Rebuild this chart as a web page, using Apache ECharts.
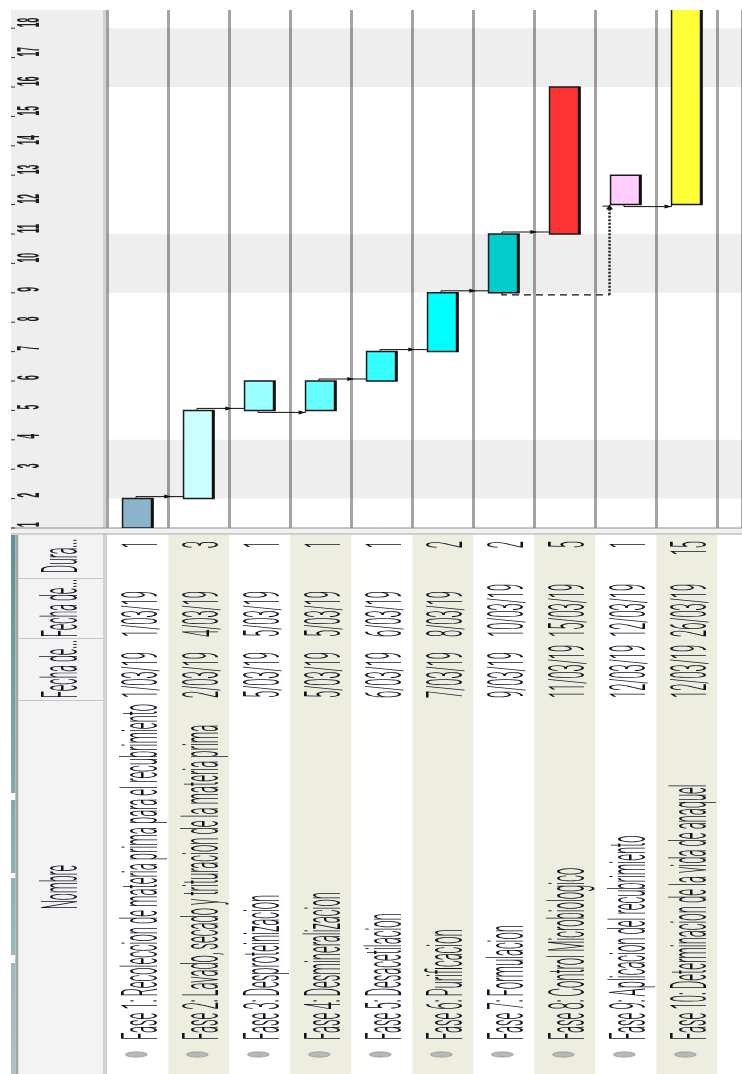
<!DOCTYPE html>
<html><head><meta charset="utf-8">
<script src="https://cdn.jsdelivr.net/npm/echarts@6/dist/echarts.min.js"></script>
<style>html,body{margin:0;padding:0;background:#fff}#c{width:742px;height:1074px}</style>
</head><body><div id="c"></div>
<script>
// ---------------- DATA ----------------
const taskNames = [
  'Fase 1: Recoleccion de materia prima para el recubrimiento',
  'Fase 2: Lavado, secado y trituracion de la materia prima',
  'Fase 3: Desproteinizacion',
  'Fase 4: Desmineralizacion',
  'Fase 5: Desacetilacion',
  'Fase 6: Purificacion',
  'Fase 7: Formulacion',
  'Fase 8: Control Microbiologico',
  'Fase 9: Aplicacion del recubrimiento',
  'Fase 10: Determinacion de la vida de anaquel'
];
const startDates = ['1/03/19','2/03/19','5/03/19','5/03/19','6/03/19','7/03/19','9/03/19','11/03/19','12/03/19','12/03/19'];
const endDates   = ['1/03/19','4/03/19','5/03/19','5/03/19','6/03/19','8/03/19','10/03/19','15/03/19','12/03/19','26/03/19'];
const startDay   = [1, 2, 5, 5, 6, 7, 9, 11, 12, 12];
const durations  = [1, 3, 1, 1, 1, 2, 2, 5, 1, 15];
const dayTickLabels = ['1','2','3','4','5','6','7','8','9','10','11','12','13','14','15','16','17','18'];
const weekendStarts = [2, 9, 16];          // two-day shaded bands
const weekendLength = 2;
const tableHeaders = ['Nombre', 'Fecha de...', 'Fecha de...', 'Dura...'];
// dependencies: kind 0 = finish-start, 1 = start-start, 2 = start-start with lag (dashed)
const depFrom = [0, 1, 2, 3, 4, 5, 6, 6, 8];
const depTo   = [1, 2, 3, 4, 5, 6, 7, 8, 9];
const depKind = [0, 0, 1, 0, 0, 0, 0, 2, 1];

// ---------------- STYLE ----------------
const barColors = ['#8cb3cc','#ccffff','#99ffff','#66ffff','#33ffff','#00ffff','#00cccc','#ff3333','#ffccff','#ffff33'];
const GRID_LEFT = 107.3, GRID_TOP = 10, GRID_BOTTOM_Y = 528, COL_W = 61, DAY_PX = 29.4;
const X_MAX = (742 - GRID_LEFT) / COL_W;
const Y_MAX = 1 + (GRID_BOTTOM_Y - GRID_TOP) / DAY_PX;
const FONT = 'Roboto, "Liberation Sans", Arial, sans-serif';
const FONT_W = 300;
const LABEL_FONT = '"Liberation Sans", Arial, sans-serif';
const TXT_FILL = '#111122';
const mctx = document.createElement('canvas').getContext('2d');
mctx.font = FONT_W + ' 12px ' + FONT;
const TXT_SX = 336 / mctx.measureText(taskNames[0]).width;
const DATE_SX = 46 / mctx.measureText('1/03/19').width;
const TXT_SY = 4.2;
const headerCells = [[700, 1074], [638, 700], [578, 638], [534, 578]]; // y ranges for tableHeaders

function rotText(text, x, y, align, opts) {
  opts = opts || {};
  return {
    type: 'text', x: x, y: y, rotation: Math.PI / 2,
    scaleX: opts.sx || TXT_SX, scaleY: opts.sy || TXT_SY,
    style: { text: text, fontSize: opts.fs || 12, fontFamily: opts.ff || FONT, fontWeight: opts.fw || FONT_W,
             fill: opts.fill || TXT_FILL, align: align, verticalAlign: 'middle' }
  };
}

// ---------------- RENDERERS ----------------
function renderBand(params, api) {
  const s = api.value(1);
  const p0 = api.coord([0, s]);
  const p1 = api.coord([X_MAX, s + weekendLength]);
  return { type: 'rect', shape: { x: p0[0], y: p1[1], width: p1[0] - p0[0], height: p0[1] - p1[1] },
           style: { fill: 'rgba(0,0,0,0.068)' } };
}
function renderBar(params, api) {
  const i = api.value(0), s = api.value(1), e = api.value(2);
  const p0 = api.coord([i + 0.25, s]);
  const p1 = api.coord([i + 0.75, e]);
  const x = p0[0], y = p1[1], w = p1[0] - p0[0], h = p0[1] - p1[1];
  return { type: 'group', children: [
    { type: 'rect', shape: { x: x, y: y, width: w, height: h },
      style: { fill: barColors[i], stroke: '#1a1a1a', lineWidth: 1.5 } },
    { type: 'line', shape: { x1: x + w - 1, y1: y, x2: x + w - 1, y2: y + h },
      style: { stroke: '#111', lineWidth: 2.5 } }
  ]};
}
function renderDep(params, api) {
  const a = api.value(0), b = api.value(1), kind = api.value(2);
  const stroke = '#111';
  const xA = api.coord([a + 0.47, 1])[0];
  const xB = api.coord([b + 0.25, 1])[0];
  const ch = [];
  if (kind === 0) {
    const yBar = api.coord([0, startDay[a] + durations[a]])[1];
    const y = yBar - 2;
    ch.push({ type: 'polyline', shape: { points: [[xA, yBar], [xA, y], [xB, y]] },
              style: { stroke: stroke, lineWidth: 1, fill: null } });
    const bx = api.coord([b, 1])[0];
    ch.push({ type: 'polygon', shape: { points: [[bx - 4, y - 2], [bx + 3, y], [bx - 4, y + 2]] }, style: { fill: stroke } });
  } else if (kind === 1) {
    const yBar = api.coord([0, startDay[a]])[1];
    const y = yBar + 2;
    ch.push({ type: 'polyline', shape: { points: [[xA, yBar], [xA, y], [xB, y], [xB, yBar]] },
              style: { stroke: stroke, lineWidth: 1, fill: null } });
    ch.push({ type: 'polygon', shape: { points: [[xB - 7, y - 2], [xB, y], [xB - 7, y + 2]] }, style: { fill: stroke } });
  } else {
    const yBar = api.coord([0, startDay[a]])[1];
    const y = yBar + 2;
    const yT = api.coord([0, startDay[b]])[1];
    const xV = xB - 1;
    ch.push({ type: 'polyline', shape: { points: [[xA, yBar], [xA, y], [xV, y]] },
              style: { stroke: stroke, lineWidth: 1.2, lineDash: [7, 5], fill: null } });
    ch.push({ type: 'line', shape: { x1: xV, y1: y, x2: xV, y2: yT + 4 },
              style: { stroke: '#222', lineWidth: 2.5, lineDash: [2, 1.5] } });
    ch.push({ type: 'polygon', shape: { points: [[xV - 3.5, yT + 5], [xV, yT], [xV + 3.5, yT + 5]] }, style: { fill: stroke } });
    ch.push({ type: 'line', shape: { x1: xV - 7, y1: yT + 1.5, x2: xV, y2: yT + 1.5 }, style: { stroke: stroke, lineWidth: 1 } });
  }
  return { type: 'group', children: ch };
}
function renderDayLabel(params, api) {
  const d = api.value(1);
  const y = api.coord([0, d])[1];
  return { type: 'group', children: [
    { type: 'line', shape: { x1: 11, y1: y, x2: 15, y2: y }, style: { stroke: '#333', lineWidth: 1 } },
    rotText(dayTickLabels[params.dataIndex], 31, y - 1, 'left',
            { fs: 8.5, sx: 1, sy: 3.6, fill: '#1e1e1e', ff: LABEL_FONT, fw: 'bold' })
  ]};
}
function renderRow(params, api) {
  const i = api.value(0);
  const xl = api.coord([i, 1])[0], xr = api.coord([i + 1, 1])[0];
  const ax = xl + 37;
  const ch = [];
  if (i % 2 === 1) ch.push({ type: 'rect', shape: { x: xl, y: 534.5, width: xr - xl, height: 540 }, style: { fill: '#eeeee0' } });
  ch.push({ type: 'circle', x: xl + 29, y: 1054.5, scaleY: 0.24, shape: { cx: 0, cy: 0, r: 11 },
            style: { fill: '#b8b8b8', stroke: '#8a8a8a', lineWidth: 1 } });
  ch.push(rotText(taskNames[i], ax, 1040, 'left'));
  ch.push(rotText(startDates[i], ax, 698, 'left', { sx: DATE_SX }));
  ch.push(rotText(endDates[i], ax, 637, 'left', { sx: DATE_SX }));
  ch.push(rotText(String(durations[i]), ax, 541, 'right', { sx: DATE_SX }));
  return { type: 'group', children: ch };
}

// ---------------- GRAPHIC (frame) ----------------
const frame = [
  { type: 'rect', shape: { x: 11, y: 10, width: 92, height: 518 }, style: { fill: '#eeeeee' }, z: 0 },
  { type: 'rect', shape: { x: 103, y: 10, width: 4, height: 1064 }, style: { fill: '#d2d2d2' }, z: 0 },
  { type: 'rect', shape: { x: 11, y: 528, width: 731, height: 6 }, style: { fill: '#f1f1f1' }, z: 3 },
  { type: 'line', shape: { x1: 11, y1: 528, x2: 742, y2: 528 }, style: { stroke: '#8e8e8e', lineWidth: 1 }, z: 3 },
  { type: 'line', shape: { x1: 11, y1: 534, x2: 742, y2: 534 }, style: { stroke: '#a6a6a6', lineWidth: 1 }, z: 3 },
  { type: 'rect', shape: { x: 11, y: 535, width: 4.5, height: 539 },
    style: { fill: new echarts.graphic.LinearGradient(0, 0, 0, 1, [{ offset: 0, color: '#5a9494' }, { offset: 1, color: '#a9c4c4' }]) }, z: 0 },
  { type: 'rect', shape: { x: 11, y: 793, width: 4.5, height: 7 }, style: { fill: '#ffffff' }, z: 0 },
  { type: 'rect', shape: { x: 11, y: 873, width: 4.5, height: 5 }, style: { fill: '#ffffff' }, z: 0 },
  { type: 'rect', shape: { x: 11, y: 955, width: 4.5, height: 8 }, style: { fill: '#ffffff' }, z: 0 },
  { type: 'rect', shape: { x: 15.5, y: 535, width: 3, height: 539 }, style: { fill: '#a4a4a4' }, z: 0 },
  { type: 'rect', shape: { x: 18.5, y: 535, width: 84.5, height: 539 }, style: { fill: '#f3f3f3' }, z: 0 }
];
headerCells.forEach(function (c, k) {
  if (k < headerCells.length - 1) frame.push({ type: 'line', shape: { x1: 18.5, y1: c[0] + 0.5, x2: 103, y2: c[0] + 0.5 }, style: { stroke: '#c4c4c4', lineWidth: 1 }, z: 1 });
  const t = rotText(tableHeaders[k], 64, (c[0] + c[1]) / 2, 'center', { sx: TXT_SX * 0.95 });
  t.z = 1;
  frame.push(t);
});

// ---------------- CHART ----------------
const chart = echarts.init(document.getElementById('c'), null, { renderer: 'canvas', width: 742, height: 1074 });
chart.setOption({
  animation: false,
  backgroundColor: '#ffffff',
  grid: { left: GRID_LEFT, top: GRID_TOP, width: 742 - GRID_LEFT, height: GRID_BOTTOM_Y - GRID_TOP },
  xAxis: { type: 'value', min: 0, max: X_MAX, interval: 1,
           axisLine: { show: false }, axisTick: { show: false }, axisLabel: { show: false },
           splitLine: { show: true, lineStyle: { color: '#a4a4a4', width: 3 } } },
  yAxis: { type: 'value', min: 1, max: Y_MAX, interval: 1,
           axisLine: { show: false }, axisTick: { show: false }, axisLabel: { show: false }, splitLine: { show: false } },
  graphic: { elements: frame },
  series: [
    { type: 'custom', name: 'weekend', z: 1, clip: true, silent: true,
      data: weekendStarts.map(function (s) { return [0, s]; }), renderItem: renderBand },
    { type: 'custom', name: 'deps', z: 3, clip: true, silent: true,
      data: depFrom.map(function (f, k) { return [f, depTo[k], depKind[k]]; }), encode: { x: 0, y: 1 }, renderItem: renderDep },
    { type: 'custom', name: 'tasks', z: 4, clip: true, silent: true,
      data: taskNames.map(function (n, i) { return [i, startDay[i], startDay[i] + durations[i]]; }),
      encode: { x: 0, y: [1, 2] }, renderItem: renderBar },
    { type: 'custom', name: 'days', z: 5, clip: false, silent: true,
      data: dayTickLabels.map(function (l) { return [0, Number(l)]; }), renderItem: renderDayLabel },
    { type: 'custom', name: 'table', z: 2, clip: false, silent: true,
      data: taskNames.map(function (n, i) { return [i, 1]; }), renderItem: renderRow }
  ]
});
</script>
</body></html>
